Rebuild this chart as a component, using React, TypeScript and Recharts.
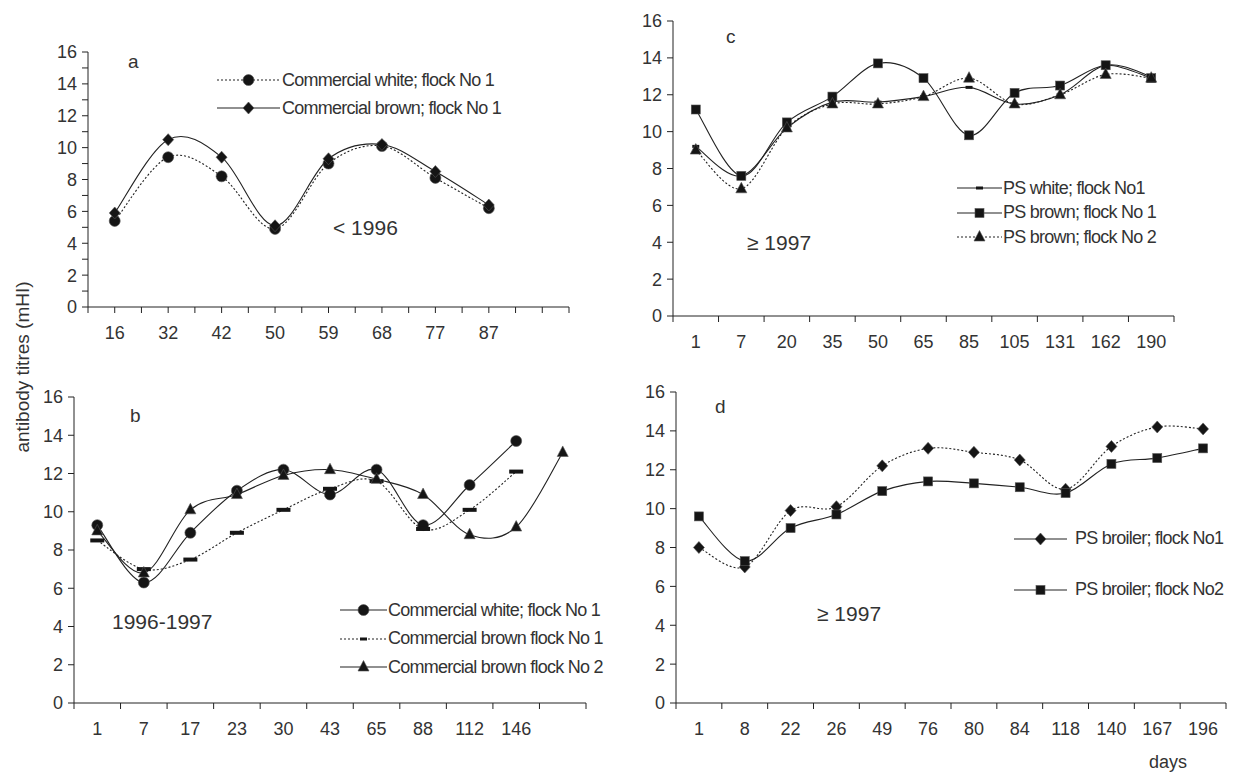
import React from "react";
import { LineChart, Line, XAxis, YAxis, Legend } from "recharts";

// ---- panel a (< 1996)
const daysA = ["16", "32", "42", "50", "59", "68", "77", "87", ""];
const commWhiteA = [5.4, 9.4, 8.2, 4.9, 9.0, 10.1, 8.1, 6.2, null];
const commBrownA = [5.9, 10.5, 9.4, 5.1, 9.3, 10.2, 8.5, 6.4, null];

// ---- panel b (1996-1997)
const daysB = ["1", "7", "17", "23", "30", "43", "65", "88", "112", "146", ""];
const commWhiteB = [9.3, 6.3, 8.9, 11.1, 12.2, 10.9, 12.2, 9.3, 11.4, 13.7, null];
const commBrown1B = [8.5, 7.0, 7.5, 8.9, 10.1, 11.2, 11.6, 9.1, 10.1, 12.1, null];
const commBrown2B = [9.0, 6.8, 10.1, 10.9, 11.9, 12.2, 11.7, 10.9, 8.8, 9.2, 13.1];

// ---- panel c (>= 1997)
const daysC = ["1", "7", "20", "35", "50", "65", "85", "105", "131", "162", "190"];
const psWhiteC = [9.2, 7.6, 10.2, 11.6, 11.6, 11.9, 12.4, 11.5, 12.0, 13.6, 13.0];
const psBrown1C = [11.2, 7.6, 10.5, 11.9, 13.7, 12.9, 9.8, 12.1, 12.5, 13.6, 12.9];
const psBrown2C = [9.0, 6.9, 10.2, 11.5, 11.5, 11.9, 12.9, 11.5, 12.0, 13.1, 12.9];

// ---- panel d (>= 1997)
const daysD = ["1", "8", "22", "26", "49", "76", "80", "84", "118", "140", "167", "196"];
const broiler1D = [8.0, 7.0, 9.9, 10.1, 12.2, 13.1, 12.9, 12.5, 11.0, 13.2, 14.2, 14.1];
const broiler2D = [9.6, 7.3, 9.0, 9.7, 10.9, 11.4, 11.3, 11.1, 10.8, 12.3, 12.6, 13.1];

const yTicksEven = [0, 2, 4, 6, 8, 10, 12, 14, 16];
const yTicksAll = Array.from({ length: 17 }, (_, i) => i);

const INK = "#222";
const TEXT = "#333";
const FONT = "'Liberation Sans', Arial, sans-serif";

type Shape = "circle" | "diamond" | "square" | "triangle" | "dash" | "bigdash";

type Series = {
  key: string;
  name: string;
  values: (number | null)[];
  shape: Shape;
  dashed: boolean;
  legendDashed: boolean;
};

// smoothing like a spreadsheet "smoothed line" (Catmull-Rom through the points)
const smoothCurve = (context: any) => {
  let pts: number[][] = [];
  return {
    areaStart() {},
    areaEnd() {},
    lineStart() {
      pts = [];
    },
    point(x: number, y: number) {
      pts.push([+x, +y]);
    },
    lineEnd() {
      if (!pts.length) return;
      context.moveTo(pts[0][0], pts[0][1]);
      for (let i = 0; i < pts.length - 1; i++) {
        const p0 = pts[i - 1] || pts[i];
        const p1 = pts[i];
        const p2 = pts[i + 1];
        const p3 = pts[i + 2] || p2;
        context.bezierCurveTo(
          p1[0] + (p2[0] - p0[0]) / 6,
          p1[1] + (p2[1] - p0[1]) / 6,
          p2[0] - (p3[0] - p1[0]) / 6,
          p2[1] - (p3[1] - p1[1]) / 6,
          p2[0],
          p2[1]
        );
      }
    },
  };
};

function Marker({ shape, cx, cy }: { shape: Shape; cx: number; cy: number }) {
  const f = "#151515";
  switch (shape) {
    case "circle":
      return <circle cx={cx} cy={cy} r={5.5} fill={f} stroke="#555" strokeWidth={0.6} />;
    case "diamond":
      return (
        <polygon
          points={`${cx},${cy - 6} ${cx + 5.5},${cy} ${cx},${cy + 6} ${cx - 5.5},${cy}`}
          fill={f}
          stroke="#555"
          strokeWidth={0.6}
        />
      );
    case "square":
      return <rect x={cx - 4.5} y={cy - 4.5} width={9} height={9} fill={f} stroke="#555" strokeWidth={0.6} />;
    case "triangle":
      return (
        <polygon
          points={`${cx},${cy - 6.5} ${cx + 5.5},${cy + 4} ${cx - 5.5},${cy + 4}`}
          fill={f}
          stroke="#555"
          strokeWidth={0.6}
        />
      );
    case "bigdash":
      return <rect x={cx - 7} y={cy - 2} width={14} height={4} fill={f} />;
    default:
      return <rect x={cx - 3.5} y={cy - 1.5} width={7} height={3} fill={f} />;
  }
}

function LegendRows({ series, lineW, gap, rowH, legendShapes }: any) {
  return (
    <div style={{ fontFamily: FONT, fontSize: 18, color: TEXT, letterSpacing: -0.75 }}>
      {series.map((s: Series, i: number) => (
        <div key={s.key} style={{ display: "flex", alignItems: "center", height: rowH, whiteSpace: "nowrap" }}>
          <svg width={lineW} height={16} style={{ display: "block", marginRight: gap }}>
            <line
              x1={0}
              x2={lineW}
              y1={8}
              y2={8}
              stroke={INK}
              strokeWidth={1.1}
              strokeDasharray={s.legendDashed ? "2 2" : undefined}
            />
            <Marker shape={legendShapes ? legendShapes[i] : s.shape} cx={lineW / 2} cy={8} />
          </svg>
          <span>{s.name}</span>
        </div>
      ))}
    </div>
  );
}

type PanelProps = {
  cats: string[];
  series: Series[];
  plotLeft: number;
  plotTop: number;
  plotRight: number;
  plotBottom: number;
  centerTicks: boolean;
  minorY: boolean;
  legend: { x: number; y: number; lineW: number; gap: number; rowH: number; shapes?: Shape[] };
};

const YW = 60;
const MT = 15;
const MR = 22;
const XH = 45;

function Panel({ cats, series, plotLeft, plotTop, plotRight, plotBottom, centerTicks, minorY, legend }: PanelProps) {
  const n = cats.length;
  const data = cats.map((c, i) => {
    const row: any = { x: i + 0.5, day: c };
    series.forEach((s) => {
      row[s.key] = s.values[i];
    });
    return row;
  });
  const xTicks = Array.from({ length: 2 * n + 1 }, (_, i) => i / 2);
  const left = plotLeft - YW;
  const top = plotTop - MT;
  const width = plotRight - plotLeft + YW + MR;
  const height = plotBottom - plotTop + MT + XH;

  const XTick = (props: any) => {
    const { x, y, payload } = props;
    const v = payload.value as number;
    const center = Math.abs((v % 1) - 0.5) < 1e-6;
    return (
      <g>
        {(!center || centerTicks) && <line x1={x} x2={x} y1={y - 6} y2={y} stroke={INK} strokeWidth={1} />}
        {center && (
          <text x={x} y={y + 26} textAnchor="middle" fontSize={18} fontFamily={FONT} fill={TEXT}>
            {cats[Math.floor(v)]}
          </text>
        )}
      </g>
    );
  };

  return (
    <div style={{ position: "absolute", left, top }}>
      <LineChart width={width} height={height} data={data} margin={{ top: MT, right: MR, left: 0, bottom: 0 }}>
        <XAxis
          dataKey="x"
          type="number"
          domain={[0, n]}
          ticks={xTicks}
          interval={0}
          height={XH}
          tickLine={false}
          tickSize={6}
          tickMargin={0}
          tick={<XTick />}
          stroke={INK}
          allowDataOverflow
        />
        <YAxis
          type="number"
          domain={[0, 16]}
          ticks={minorY ? yTicksAll : yTicksEven}
          interval={0}
          width={YW}
          tickSize={6}
          tickMargin={5}
          stroke={INK}
          tickFormatter={(v: number) => (v % 2 === 0 ? String(v) : "")}
          tick={{ fontSize: 18, fontFamily: FONT, fill: TEXT }}
        />
        {series.map((s) => (
          <Line
            key={s.key}
            dataKey={s.key}
            name={s.name}
            type={smoothCurve as any}
            stroke={INK}
            strokeWidth={1.1}
            strokeDasharray={s.dashed ? "2 2" : undefined}
            isAnimationActive={false}
            connectNulls={false}
            dot={(p: any) =>
              p.cy == null || isNaN(p.cy) ? <g key={p.index} /> : <Marker key={p.index} shape={s.shape} cx={p.cx} cy={p.cy} />
            }
            activeDot={false}
          />
        ))}
        <Legend
          layout="vertical"
          align="center"
          verticalAlign="middle"
          wrapperStyle={{ left: legend.x - left, top: legend.y - top, width: "auto", height: "auto" }}
          content={() => (
            <LegendRows series={series} lineW={legend.lineW} gap={legend.gap} rowH={legend.rowH} legendShapes={legend.shapes} />
          )}
        />
      </LineChart>
    </div>
  );
}

const seriesA: Series[] = [
  { key: "w", name: "Commercial white; flock No 1", values: commWhiteA, shape: "circle", dashed: true, legendDashed: true },
  { key: "b", name: "Commercial brown; flock No 1", values: commBrownA, shape: "diamond", dashed: false, legendDashed: false },
];
const seriesB: Series[] = [
  { key: "w", name: "Commercial white; flock No 1", values: commWhiteB, shape: "circle", dashed: false, legendDashed: false },
  { key: "b1", name: "Commercial brown flock No 1", values: commBrown1B, shape: "bigdash", dashed: true, legendDashed: true },
  { key: "b2", name: "Commercial brown flock No 2", values: commBrown2B, shape: "triangle", dashed: false, legendDashed: false },
];
const seriesC: Series[] = [
  { key: "w", name: "PS white; flock No1", values: psWhiteC, shape: "dash", dashed: false, legendDashed: false },
  { key: "b1", name: "PS brown; flock No 1", values: psBrown1C, shape: "square", dashed: false, legendDashed: false },
  { key: "b2", name: "PS brown; flock No 2", values: psBrown2C, shape: "triangle", dashed: true, legendDashed: true },
];
const seriesD: Series[] = [
  { key: "f1", name: "PS broiler; flock No1", values: broiler1D, shape: "diamond", dashed: true, legendDashed: false },
  { key: "f2", name: "PS broiler; flock No2", values: broiler2D, shape: "square", dashed: false, legendDashed: false },
];

export default function App() {
  const t = { fontFamily: FONT, fill: TEXT };
  return (
    <div style={{ position: "absolute", left: 0, top: 0, width: 1247, height: 774, background: "#fff" }}>
      <Panel
        cats={daysA}
        series={seriesA}
        plotLeft={88}
        plotTop={52}
        plotRight={569}
        plotBottom={307}
        centerTicks
        minorY
        legend={{ x: 217, y: 66, lineW: 63, gap: 2, rowH: 28 }}
      />
      <Panel
        cats={daysC}
        series={seriesC}
        plotLeft={673}
        plotTop={21}
        plotRight={1174}
        plotBottom={316}
        centerTicks={false}
        minorY={false}
        legend={{ x: 957, y: 176, lineW: 45, gap: 1, rowH: 24.5 }}
      />
      <Panel
        cats={daysB}
        series={seriesB}
        plotLeft={74}
        plotTop={397}
        plotRight={586}
        plotBottom={703}
        centerTicks={false}
        minorY={false}
        legend={{ x: 340, y: 596, lineW: 47, gap: 1, rowH: 28.5, shapes: ["circle", "dash", "triangle"] }}
      />
      <Panel
        cats={daysD}
        series={seriesD}
        plotLeft={676}
        plotTop={392}
        plotRight={1226}
        plotBottom={703}
        centerTicks={false}
        minorY={false}
        legend={{ x: 1014, y: 513, lineW: 53, gap: 8, rowH: 51 }}
      />
      <svg width={1247} height={774} style={{ position: "absolute", left: 0, top: 0, pointerEvents: "none" }}>
        <text x={128} y={68} fontSize={19} {...t}>a</text>
        <text x={333} y={235} fontSize={21} {...t}>&lt; 1996</text>
        <text x={726} y={43} fontSize={19} {...t}>c</text>
        <text x={747} y={250} fontSize={21} {...t}>≥ 1997</text>
        <text x={130} y={422} fontSize={19} {...t}>b</text>
        <text x={112} y={629} fontSize={21} {...t}>1996-1997</text>
        <text x={715} y={413} fontSize={19} {...t}>d</text>
        <text x={817} y={621} fontSize={21} {...t}>≥ 1997</text>
        <text x={1149} y={768} fontSize={18} {...t}>days</text>
        <text x={29} y={367} fontSize={19} textAnchor="middle" transform="rotate(-90 29 367)" {...t}>
          antibody titres (mHI)
        </text>
      </svg>
    </div>
  );
}
